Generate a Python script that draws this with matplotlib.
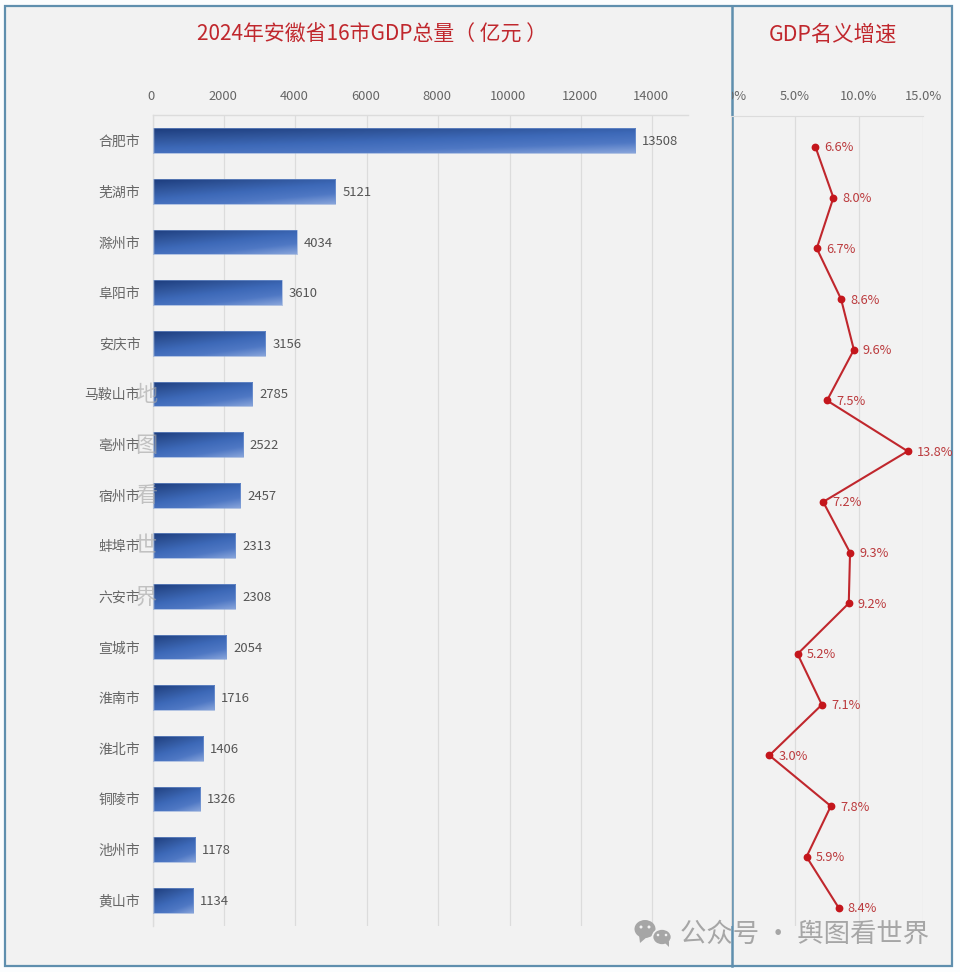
import numpy as np
import matplotlib
matplotlib.use("Agg")
import matplotlib.pyplot as plt
from matplotlib.colors import LinearSegmentedColormap
from matplotlib.patches import Rectangle, Ellipse, Polygon
from matplotlib.transforms import Bbox, ScaledTranslation

plt.rcParams['font.family'] = ['Noto Sans CJK SC', 'DejaVu Sans']

cities = ["合肥市", "芜湖市", "滁州市", "阜阳市", "安庆市", "马鞍山市", "亳州市", "宿州市",
          "蚌埠市", "六安市", "宣城市", "淮南市", "淮北市", "铜陵市", "池州市", "黄山市"]
gdp = [13508, 5121, 4034, 3610, 3156, 2785, 2522, 2457, 2313, 2308, 2054, 1716, 1406, 1326, 1178, 1134]
growth = [6.6, 8.0, 6.7, 8.6, 9.6, 7.5, 13.8, 7.2, 9.3, 9.2, 5.2, 7.1, 3.0, 7.8, 5.9, 8.4]
gdp_ticks = [0, 2000, 4000, 6000, 8000, 10000, 12000, 14000]
growth_ticks = [0, 5, 10, 15]
title_left = "2024年安徽省16市GDP总量（ 亿元 ）"
title_right = "GDP名义增速"
mark_vertical = "地图看世界"
mark_bottom = "公众号 · 舆图看世界"

W, H = 960, 972
fig = plt.figure(figsize=(W / 100, H / 100), dpi=100, facecolor="#fbfdfe")


def px_axes(x0, y0, x1, y1, **kw):
    return fig.add_axes([x0 / W, 1 - y1 / H, (x1 - x0) / W, (y1 - y0) / H], **kw)


GRID = "#dcdcdc"
TICK = "#666666"
BORDER = "#5f8fae"
RED = "#c0272d"

# background panels
bg = px_axes(0, 0, W, H, zorder=0)
bg.set_xlim(0, W)
bg.set_ylim(H, 0)
bg.axis("off")
bg.add_patch(Rectangle((5, 6), 947, 960, fc="#f2f2f2", ec=BORDER, lw=1.6))
bg.plot([731.5, 731.5], [6, 966], color=BORDER, lw=1.8)
bg.text(372, 35, title_left, color=RED, fontsize=15, ha="center", va="center")
bg.text(833, 35, title_right, color=RED, fontsize=15.4, ha="center", va="center")

# GDP bars
ax = px_axes(152.7, 115.5, 688, 925.5, zorder=1)
ax.patch.set_visible(False)
ypos = np.arange(len(cities))
bars = ax.barh(ypos, gdp, height=0.49, color="none", edgecolor="#7f9fd6", linewidth=0.4, zorder=3)
cmap = LinearSegmentedColormap.from_list("bar", ["#1d3d7e", "#2f5499", "#3d69b8", "#4f78c4", "#86a3da"])
gx, gy = np.meshgrid(np.linspace(0, 1, 160), np.linspace(0, 1, 24))
shade = np.clip(0.6 * gy + 0.4 * gx, 0, 1)
for b in bars:
    box = b.get_bbox()
    im = ax.imshow(shade, extent=(box.x0, box.x1, box.y1, box.y0), cmap=cmap, vmin=0, vmax=1,
                   aspect="auto", interpolation="bilinear", zorder=2)
    im.set_clip_path(b)
ax.set_xlim(0, 15000)
ax.set_ylim(len(cities) - 0.5, -0.5)
ax.xaxis.tick_top()
ax.set_xticks(gdp_ticks)
ax.set_yticks(ypos, cities)
ax.tick_params(axis="x", length=0, pad=9, labelsize=9.3, labelcolor=TICK)
ax.tick_params(axis="y", length=0, pad=9, labelsize=10, labelcolor=TICK)
ax.grid(axis="x", color=GRID, lw=0.9, zorder=1)
ax.set_axisbelow(True)
for s in ("right", "bottom"):
    ax.spines[s].set_visible(False)
for s in ("top", "left"):
    ax.spines[s].set_color(GRID)
    ax.spines[s].set_linewidth(1.0)
shift = ScaledTranslation(-1.5 / 100, 0, fig.dpi_scale_trans)
for lab in ax.get_xticklabels():
    lab.set_transform(lab.get_transform() + shift)
for t in ax.bar_label(bars, labels=[str(v) for v in gdp], padding=5, fontsize=9.4, color="#555555"):
    t.xyann = (t.xyann[0], -0.7)

# Growth line
ax2 = px_axes(731, 116, 923, 925.5, zorder=2)
ax2.patch.set_visible(False)
ax2.plot(growth, ypos, color=RED, lw=1.5, marker="o", ms=4.6, mfc="#c4161c", mec="#c4161c", zorder=3)
for v, y in zip(growth, ypos):
    ax2.annotate(f"{v:.1f}%", (v, y), xytext=(6.5, -0.7), textcoords="offset points",
                 va="center", ha="left", fontsize=9.2, color="#bb3a3d")
ax2.set_xlim(0, 15)
ax2.set_ylim((925.5 - 147) / 50.7, (116 - 147) / 50.7)
ax2.xaxis.tick_top()
ax2.set_xticks(growth_ticks, [f"{t:.1f}%" for t in growth_ticks])
ax2.set_yticks([])
ax2.tick_params(axis="x", length=0, pad=9, labelsize=9.3, labelcolor=TICK)
ax2.grid(axis="x", color=GRID, lw=0.9, zorder=1)
ax2.set_axisbelow(True)
for s in ("right", "bottom", "left"):
    ax2.spines[s].set_visible(False)
ax2.spines["top"].set_color(GRID)
for lab in ax2.get_xticklabels():
    lab.set_clip_box(Bbox([[732, 0], [W, H]]))
    lab.set_clip_on(True)

# watermarks
fg = px_axes(0, 0, W, H, zorder=5)
fg.set_xlim(0, W)
fg.set_ylim(H, 0)
fg.axis("off")
for ch, y in zip(mark_vertical, [394, 445, 495, 546, 597]):
    fg.text(146, y, ch, fontsize=16, color="#a8a8a8", alpha=0.65, ha="center", va="center")
fg.add_patch(Ellipse((645, 929), 21, 18, fc="#a6a6a6", ec="none"))
fg.add_patch(Polygon([[639, 935], [640, 943], [647, 937]], fc="#a6a6a6", ec="none"))
fg.add_patch(Ellipse((662, 937), 19, 16, fc="#a6a6a6", ec="#f2f2f2", lw=1.2))
fg.add_patch(Polygon([[665, 943], [669, 947], [669, 941]], fc="#a6a6a6", ec="none"))
for cx, cy, r in [(641, 927, 1.5), (649, 927, 1.5), (658, 935, 1.3), (666, 935, 1.3)]:
    fg.add_patch(Ellipse((cx, cy), 2 * r, 2 * r, fc="#f2f2f2", ec="none"))
fg.text(805, 934, mark_bottom, fontsize=19, color="#a6a6a6", ha="center", va="center")

fig.savefig("out.png", dpi=100, facecolor=fig.get_facecolor())
